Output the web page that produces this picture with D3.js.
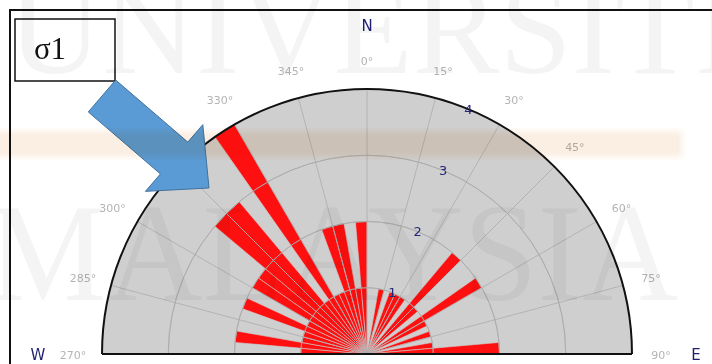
<!DOCTYPE html>
<html>
<head>
<meta charset="utf-8">
<script src="https://cdn.jsdelivr.net/npm/d3@7"></script>
<style>
  html, body { margin: 0; padding: 0; background: #fff; }
  svg { display: block; }
  .deg { font-family: "DejaVu Sans", Verdana, sans-serif; font-size: 11px; fill: #b4b4b4; }
  .ring { font-family: "DejaVu Sans", Verdana, sans-serif; font-size: 13px; fill: #26267a; }
  .compass { font-family: "DejaVu Sans", Verdana, sans-serif; font-size: 15px; fill: #1f1f70; }
</style>
</head>
<body>
<svg id="chart" width="712" height="364"></svg>
<script>
// Fracture directions, counted in 5° bins (azimuth where each bin starts)
const westBins   = [270, 275, 280, 285, 290, 295, 300, 305, 310, 315, 320, 325, 330, 335, 340, 345, 350, 355];
const westCounts = [  1,   2,   1,   1,   2,   1,   2,   2,   3,   3,   1,   4,   1,   1,   2,   2,   1,   2];
const eastBins   = [  0,   5,  10,  15,  20,  25,  30,  35,  40,  45,  50,  55,  60,  65,  70,  75,  80,  85];
const eastCounts = [  0,   0,   1,   0,   1,   1,   1,   0,   2,   1,   0,   2,   1,   0,   1,   0,   1,   2];
const binWidth = 5;

const ringTicks  = [1, 2, 3, 4];
const angleTicks = [270, 285, 300, 315, 330, 345, 0, 15, 30, 45, 60, 75, 90];
const compassLabels = ["N", "W", "E"];
const compassAz     = [0, 270, 90];
const watermarkLines = ["UNIVERSITI", "MALAYSIA"];
const stressLabel = "σ1";

const svg = d3.select("#chart");
const W = 712, H = 364;
const cx = 367, cy = 354, R = 265;

// azimuth in degrees (clockwise from north) -> signed radians for d3.arc
const rad = az => ((az > 180 ? az - 360 : az) * Math.PI) / 180;
const r = d3.scaleLinear().domain([0, d3.max(ringTicks)]).range([0, R]);
const polar = (az, rr) => [rr * Math.sin(rad(az)), -rr * Math.cos(rad(az))];

const bins = westBins.map((b, i) => ({ start: b, count: westCounts[i] }))
  .concat(eastBins.map((b, i) => ({ start: b, count: eastCounts[i] })));

svg.append("rect").attr("width", W).attr("height", H).attr("fill", "#fff");

const g = svg.append("g").attr("transform", `translate(${cx},${cy})`);

// half-disc background
g.append("path")
  .attr("d", d3.arc()({ innerRadius: 0, outerRadius: R, startAngle: -Math.PI / 2, endAngle: Math.PI / 2 }))
  .attr("fill", "#cfcfcf");

// petals
const petal = d3.arc().innerRadius(0);
g.append("g").selectAll("path")
  .data(bins.filter(d => d.count > 0))
  .join("path")
  .attr("d", d => petal({
    outerRadius: r(d.count),
    startAngle: rad(d.start),
    endAngle: rad(d.start) + (binWidth * Math.PI) / 180
  }))
  .attr("fill", "#ff1010")
  .attr("stroke", "rgba(205,205,205,0.75)")
  .attr("stroke-width", 0.8);

// grid drawn over the petals
const grid = g.append("g").attr("fill", "none").attr("stroke", "#a9a9a9").attr("stroke-opacity", 0.75).attr("stroke-width", 1);
grid.selectAll("path.ringline")
  .data(ringTicks.slice(0, -1))
  .join("path")
  .attr("class", "ringline")
  .attr("d", d => d3.arc()({ innerRadius: r(d), outerRadius: r(d), startAngle: -Math.PI / 2, endAngle: Math.PI / 2 }));
grid.selectAll("line")
  .data(angleTicks)
  .join("line")
  .attr("x1", 0).attr("y1", 0)
  .attr("x2", d => polar(d, R)[0])
  .attr("y2", d => polar(d, R)[1]);

// outline of the half disc
g.append("path")
  .attr("d", d3.arc()({ innerRadius: R, outerRadius: R, startAngle: -Math.PI / 2, endAngle: Math.PI / 2 }))
  .attr("fill", "none").attr("stroke", "#111").attr("stroke-width", 2);
g.append("line")
  .attr("x1", -R).attr("x2", R).attr("y1", 0).attr("y2", 0)
  .attr("stroke", "#111").attr("stroke-width", 2);

// ring value labels along 22.5°
g.selectAll("text.ring")
  .data(ringTicks)
  .join("text")
  .attr("class", "ring")
  .attr("x", d => polar(22.5, r(d))[0])
  .attr("y", d => polar(22.5, r(d))[1])
  .attr("text-anchor", "middle")
  .attr("dominant-baseline", "central")
  .text(d => d);

// azimuth labels
g.selectAll("text.deg")
  .data(angleTicks)
  .join("text")
  .attr("class", "deg")
  .attr("x", d => polar(d, 294)[0])
  .attr("y", d => polar(d, 294)[1] + 1)
  .attr("text-anchor", "middle")
  .attr("dominant-baseline", "central")
  .text(d => `${d}°`);

// compass letters
g.selectAll("text.compass")
  .data(compassLabels)
  .join("text")
  .attr("class", "compass")
  .attr("x", (d, i) => polar(compassAz[i], 329)[0])
  .attr("y", (d, i) => polar(compassAz[i], 329)[1] + 1)
  .attr("text-anchor", "middle")
  .attr("dominant-baseline", "central")
  .text(d => d);

// slide frame
svg.append("rect")
  .attr("x", 10).attr("y", 10).attr("width", 800).attr("height", 400)
  .attr("fill", "none").attr("stroke", "#111").attr("stroke-width", 2);

// σ1 label box
svg.append("rect")
  .attr("x", 15).attr("y", 19).attr("width", 100).attr("height", 62)
  .attr("fill", "#fff").attr("stroke", "#111").attr("stroke-width", 1.5);
svg.append("text")
  .attr("x", 50).attr("y", 59)
  .attr("text-anchor", "middle")
  .attr("font-family", "'Liberation Serif', 'Times New Roman', serif")
  .attr("font-size", 31)
  .attr("fill", "#111")
  .text(stressLabel);

// block arrow pointing at the σ1 direction
(function blockArrow(x0, y0, x1, y1, shaftW, headW, headL) {
  const dx = x1 - x0, dy = y1 - y0, L = Math.hypot(dx, dy);
  const ux = dx / L, uy = dy / L, nx = -uy, ny = ux;
  const P = (a, b) => [x0 + ux * a + nx * b, y0 + uy * a + ny * b];
  const pts = [P(0, -shaftW / 2), P(L - headL, -shaftW / 2), P(L - headL, -headW / 2), P(L, 0),
               P(L - headL, headW / 2), P(L - headL, shaftW / 2), P(0, shaftW / 2)];
  svg.append("path")
    .attr("d", d3.line()(pts) + "Z")
    .attr("fill", "#5b9bd5").attr("stroke", "#41719c").attr("stroke-width", 1);
})(102, 96, 209, 188, 42, 88, 46);

// faint background watermark and band
const defs = svg.append("defs");
defs.append("filter").attr("id", "soft").append("feGaussianBlur").attr("stdDeviation", 3);
svg.append("rect")
  .attr("x", -10).attr("y", 131).attr("width", 692).attr("height", 26)
  .attr("fill", "#fbeee2").attr("filter", "url(#soft)")
  .style("mix-blend-mode", "multiply");
const wm = svg.append("g")
  .attr("font-family", "'Liberation Serif', 'Times New Roman', serif")
  .attr("fill", "#000").attr("fill-opacity", 0.042);
wm.append("text").attr("x", 8).attr("y", 73).attr("font-size", 130)
  .attr("textLength", 730).attr("lengthAdjust", "spacingAndGlyphs").text(watermarkLines[0]);
wm.append("text").attr("x", -12).attr("y", 300).attr("font-size", 140)
  .attr("textLength", 690).attr("lengthAdjust", "spacingAndGlyphs").text(watermarkLines[1]);
</script>
</body>
</html>
